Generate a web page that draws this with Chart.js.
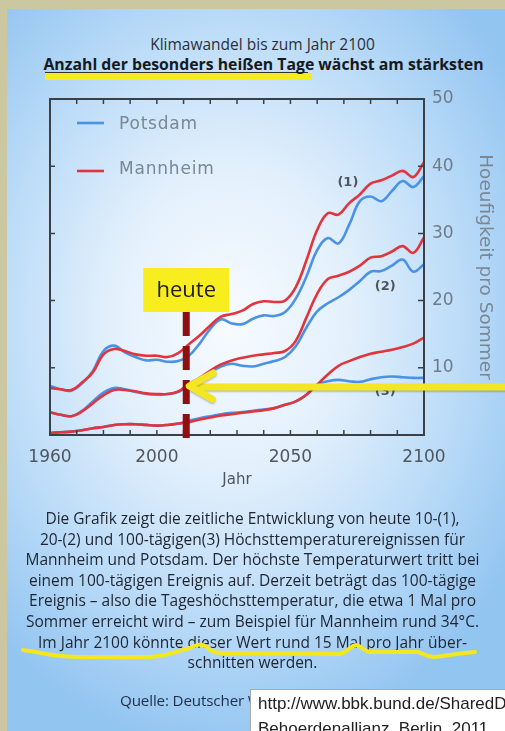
<!DOCTYPE html>
<html>
<head>
<meta charset="utf-8">
<script src="https://cdn.jsdelivr.net/npm/chart.js@4.4.1/dist/chart.umd.min.js"></script>
<style>
  html, body { margin: 0; padding: 0; }
  body {
    width: 505px; height: 731px; overflow: hidden; position: relative;
    background: radial-gradient(ellipse 340px 430px at 230px 320px, #f7fbff 0%, #e3f0fc 35%, #bcdcf8 68%, #93c5f1 100%);
    font-family: "Open Sans", sans-serif; color: #1f2530;
  }
  #edgeTop { position: absolute; left: 0; top: 0; width: 505px; height: 9px; background: #cbc7a1; }
  #edgeLeft { position: absolute; left: 0; top: 0; width: 7px; height: 731px; background: #cbc7a1; }
  #chart { position: absolute; left: 0; top: 0; }
  .t { position: absolute; left: 0; width: 505px; text-align: center; white-space: nowrap; }
  #title1 { top: 34px; font-size: 15.5px; line-height: 21px; color: #2b3038; left: 10px; }
  #title2 { top: 54px; font-size: 15.8px; line-height: 21px; font-weight: bold; color: #161a20; left: 11px; }
  #hl { position: absolute; left: 45px; top: 73px; width: 267px; height: 7px; background: #f5ec1e; }
  #ul { position: absolute; left: 45px; top: 72px; width: 263px; height: 1px; background: #333; }
  #caption { top: 508px; font-size: 15.5px; line-height: 20.6px; left: 0px; }
  #quelle { position: absolute; left: 120px; top: 689px; font-size: 15.2px; line-height: 22px; white-space: nowrap; color: #1f2f4a; letter-spacing: -0.15px; }
  #box { position: absolute; left: 250px; top: 689px; width: 260px; height: 50px; background: #fff; border: 1px solid #aaa;
         font-family: "Liberation Sans", Arial, sans-serif; font-size: 17px; line-height: 25px; color: #222; padding: 1px 0 0 7px; white-space: nowrap; box-sizing: border-box; }
  #squiggle { position: absolute; left: 0; top: 0; }
</style>
</head>
<body>
<div id="edgeTop"></div>
<div id="edgeLeft"></div>
<div id="hl"></div>
<div id="ul"></div>
<div class="t" id="title1">Klimawandel bis zum Jahr 2100</div>
<div class="t" id="title2">Anzahl der besonders heißen Tage wächst am stärksten</div>
<canvas id="chart" width="505" height="731"></canvas>
<div class="t" id="caption">Die Grafik zeigt die zeitliche Entwicklung von heute 10-(1),<br>20-(2) und 100-tägigen(3) Höchsttemperaturereignissen für<br>Mannheim und Potsdam. Der höchste Temperaturwert tritt bei<br>einem 100-tägigen Ereignis auf. Derzeit beträgt das 100-tägige<br>Ereignis – also die Tageshöchsttemperatur, die etwa 1 Mal pro<br>Sommer erreicht wird – zum Beispiel für Mannheim rund 34°C.<br>Im Jahr 2100 könnte dieser Wert rund 15 Mal pro Jahr über-<br>schnitten werden.</div>
<svg id="squiggle" width="505" height="731">
  <path d="M23 650 C40 652 55 657 80 657 L150 657 C170 656 180 650 190 648 C198 644 202 643 208 648 C212 652 216 653 225 653 L340 654 C348 652 350 646 356 645 C362 646 363 651 370 652 L418 652 C424 654 427 657 434 657 C445 656 460 653 475 652"
        fill="none" stroke="#f3e81f" stroke-width="4" stroke-linecap="round"/>
</svg>
<div id="quelle">Quelle: Deutscher Wetterdienst</div>
<div id="box">http://www.bbk.bund.de/SharedDocs<br>Behoerdenallianz, Berlin, 2011</div>

<script>
const years = [1960, 1964, 1968, 1972, 1976, 1980, 1984, 1988, 1992, 1996, 2000, 2004, 2008, 2012, 2016, 2020, 2024, 2028,
  2032, 2036, 2040, 2044, 2048, 2052, 2056, 2060, 2064, 2068, 2072, 2076, 2080, 2084, 2088, 2092, 2096, 2100];

// (1) 10-taegige Ereignisse
const mannheim1 = [7.0, 6.8, 6.7, 7.8, 9.3, 12.0, 12.8, 12.5, 12.0, 11.8, 11.8, 11.6, 12.2, 13.5, 14.8, 16.3, 17.6, 18.0,
  18.5, 19.5, 19.9, 19.8, 20.0, 22.0, 26.0, 30.5, 33.0, 32.8, 34.5, 35.8, 37.4, 37.9, 38.6, 39.3, 38.4, 40.6];
const potsdam1 = [7.3, 6.8, 6.6, 7.7, 9.5, 12.5, 13.3, 12.3, 11.6, 11.1, 11.2, 10.9, 11.0, 11.8, 13.6, 15.8, 17.2, 16.6,
  16.5, 17.3, 17.8, 17.7, 18.3, 20.3, 23.6, 27.5, 29.3, 28.5, 31.3, 34.8, 35.5, 34.8, 36.3, 37.8, 36.9, 38.5];

// (2) 20-taegige Ereignisse
const mannheim2 = [3.4, 3.0, 2.8, 3.5, 4.7, 5.9, 6.7, 6.7, 6.5, 6.2, 6.1, 6.1, 6.5, 7.6, 8.5, 9.6, 10.5, 11.1,
  11.5, 11.8, 12.0, 12.2, 12.5, 14.0, 17.5, 21.0, 23.2, 23.7, 24.3, 25.2, 26.4, 26.6, 27.3, 28.1, 27.1, 29.4];
const potsdam2 = [3.4, 3.0, 2.8, 3.6, 5.0, 6.3, 7.0, 6.8, 6.4, 6.1, 6.0, 6.1, 6.4, 7.4, 8.4, 9.3, 10.2, 10.6,
  10.3, 10.2, 10.6, 11.0, 11.6, 13.2, 16.0, 18.4, 19.6, 20.5, 21.6, 22.9, 24.3, 24.4, 25.2, 26.1, 24.3, 25.4];

// (3) 100-taegige Ereignisse
const mannheim3 = [0.3, 0.4, 0.5, 0.7, 1.0, 1.2, 1.5, 1.6, 1.6, 1.5, 1.4, 1.5, 1.7, 1.9, 2.3, 2.6, 2.9, 3.1,
  3.3, 3.5, 3.7, 4.0, 4.5, 5.0, 6.0, 7.5, 9.0, 10.3, 11.0, 11.6, 12.1, 12.4, 12.7, 13.1, 13.6, 14.5];
const potsdam3 = [0.3, 0.4, 0.5, 0.7, 1.0, 1.2, 1.5, 1.6, 1.6, 1.5, 1.4, 1.5, 1.7, 2.1, 2.5, 2.8, 3.1, 3.3,
  3.4, 3.6, 3.8, 4.0, 4.5, 5.0, 6.0, 7.5, 8.0, 8.2, 8.0, 7.9, 8.3, 8.6, 8.7, 8.6, 8.5, 8.5];

const xLabels = [1960, 2000, 2050, 2100];
const heuteJahr = 2011;

const RED = "#e2343d";
const BLUE = "#4a92e6";
const AXIS = "#3b4047";
const GREY = "#6e7c8a";

function line(values, color) {
  return {
    data: years.map((y, i) => ({ x: y, y: values[i] })),
    borderColor: color,
    borderWidth: 2.6,
    pointRadius: 0,
    tension: 0.4,
    fill: false,
  };
}

const deko = {
  id: "deko",
  afterDatasetsDraw(chart) {
    const ctx = chart.ctx;
    const a = chart.chartArea;
    const xs = chart.scales.x;
    const ys = chart.scales.y;
    ctx.save();

    // frame with inward ticks
    ctx.strokeStyle = AXIS;
    ctx.lineWidth = 2;
    ctx.strokeRect(a.left, a.top, a.right - a.left, a.bottom - a.top);
    ctx.lineWidth = 1.5;
    ctx.beginPath();
    for (let yr = 1970; yr < 2100; yr += 10) {
      const px = xs.getPixelForValue(yr);
      ctx.moveTo(px, a.bottom); ctx.lineTo(px, a.bottom - 5);
      ctx.moveTo(px, a.top); ctx.lineTo(px, a.top + 5);
    }
    for (let v = 10; v < 50; v += 10) {
      const py = ys.getPixelForValue(v);
      ctx.moveTo(a.left, py); ctx.lineTo(a.left + 5, py);
      ctx.moveTo(a.right, py); ctx.lineTo(a.right - 6, py);
    }
    ctx.stroke();

    // legend
    ctx.lineWidth = 2.6;
    ctx.strokeStyle = BLUE;
    ctx.beginPath(); ctx.moveTo(77, 123); ctx.lineTo(104, 123); ctx.stroke();
    ctx.strokeStyle = RED;
    ctx.beginPath(); ctx.moveTo(77, 171); ctx.lineTo(104, 171); ctx.stroke();
    ctx.fillStyle = "#7a8794";
    ctx.font = '17px "DejaVu Sans"';
    ctx.textBaseline = "middle";
    ctx.textAlign = "left";
    ctx.letterSpacing = "0.8px";
    ctx.fillText("Potsdam", 119, 125);
    ctx.fillText("Mannheim", 119, 170);
    ctx.letterSpacing = "0px";

    // curve labels
    ctx.fillStyle = "#4f555c";
    ctx.font = 'bold 13px "DejaVu Sans"';
    ctx.textAlign = "center";
    ctx.fillText("(1)", xs.getPixelForValue(2071.5), ys.getPixelForValue(37.5));
    ctx.fillText("(2)", xs.getPixelForValue(2085.5), ys.getPixelForValue(22.1));
    ctx.fillText("(3)", xs.getPixelForValue(2085.5), ys.getPixelForValue(6.5));

    // heute marker
    const hx = xs.getPixelForValue(heuteJahr);
    ctx.strokeStyle = "#8e0f10";
    ctx.lineWidth = 7;
    ctx.setLineDash([24, 10]);
    ctx.beginPath(); ctx.moveTo(hx, 312); ctx.lineTo(hx, a.bottom + 6); ctx.stroke();
    ctx.setLineDash([]);
    ctx.fillStyle = "#f7ed1f";
    ctx.fillRect(hx - 43, 268, 86, 44);
    ctx.fillStyle = "#1e1e1e";
    ctx.font = '22px "Open Sans"';
    ctx.fillText("heute", hx, 291);

    // yellow arrow
    ctx.strokeStyle = "#f3e625";
    ctx.lineWidth = 7;
    ctx.lineCap = "round";
    ctx.lineJoin = "round";
    ctx.shadowColor = "rgba(90,90,40,0.35)";
    ctx.shadowOffsetY = 1.5;
    ctx.shadowBlur = 2;
    ctx.beginPath(); ctx.moveTo(hx + 8, 387); ctx.lineTo(510, 387); ctx.stroke();
    ctx.beginPath(); ctx.moveTo(hx + 27, 373); ctx.lineTo(hx + 3, 386); ctx.lineTo(hx + 26, 399); ctx.stroke();
    ctx.restore();
  }
};

new Chart(document.getElementById("chart").getContext("2d"), {
  type: "line",
  data: {
    datasets: [
      line(mannheim1, RED), line(mannheim2, RED), line(mannheim3, RED),
      line(potsdam1, BLUE), line(potsdam2, BLUE), line(potsdam3, BLUE),
    ],
  },
  options: {
    responsive: false,
    animation: false,
    layout: { padding: { left: 50, top: 99, right: 6, bottom: 240 } },
    plugins: { legend: { display: false }, tooltip: { enabled: false } },
    scales: {
      x: {
        type: "linear",
        min: 1960,
        max: 2100,
        afterBuildTicks: (s) => { s.ticks = xLabels.map((v) => ({ value: v })); },
        afterFit: (s) => { s.height = 56; },
        grid: { display: false, drawTicks: false },
        border: { display: false },
        ticks: {
          color: "#50565d",
          font: { family: "DejaVu Sans", size: 17 },
          padding: 12,
          maxRotation: 0,
          autoSkip: false,
          callback: (v) => String(v),
        },
        title: { display: true, text: "Jahr", color: "#50565d", font: { family: "DejaVu Sans", size: 15 }, padding: { top: 0, bottom: 2 } },
      },
      y: {
        position: "right",
        min: 0,
        max: 50,
        afterFit: (s) => { s.width = 75; },
        grid: { display: false, drawTicks: false },
        border: { display: false },
        ticks: {
          stepSize: 10,
          color: GREY,
          padding: 8,
          font: { family: "DejaVu Sans", size: 17 },
          callback: (v) => (v === 0 ? "" : v),
        },
        title: {
          display: true,
          text: "Hoeufigkeit pro Sommer",
          color: "#7a8794",
          font: { family: "DejaVu Sans", size: 18.5 },
          padding: { top: 3, bottom: 3 },
        },
      },
    },
  },
  plugins: [deko],
});
</script>
</body>
</html>
